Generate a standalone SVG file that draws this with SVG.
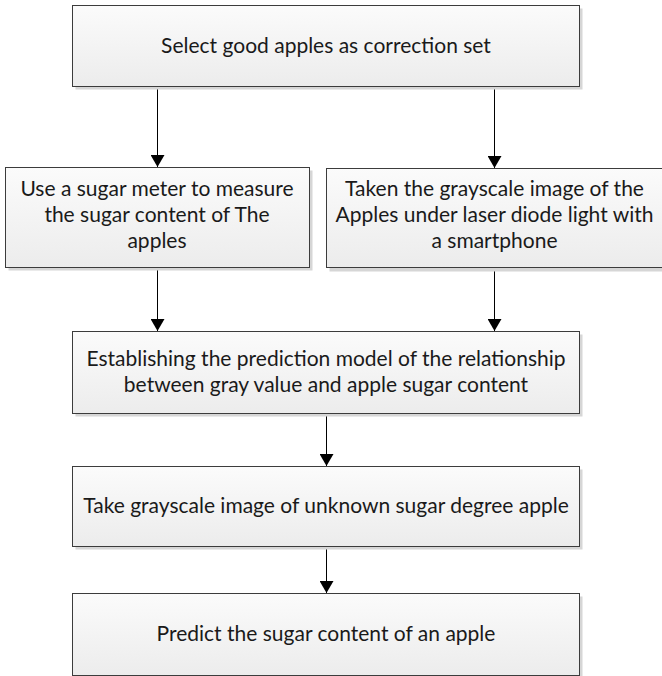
<svg xmlns="http://www.w3.org/2000/svg" width="662" height="676" viewBox="0 0 662 676">
  <defs>
    <linearGradient id="boxFill" x1="0" y1="0" x2="0" y2="1">
      <stop offset="0" stop-color="#fbfbfb"/>
      <stop offset="1" stop-color="#ececec"/>
    </linearGradient>
    <marker id="arrow" viewBox="0 0 12 14" refX="12" refY="7" markerWidth="12" markerHeight="14" markerUnits="userSpaceOnUse" orient="auto">
      <path d="M0,0 L12,7 L0,14 Z" fill="#000"/>
    </marker>
  </defs>
  <style>
    .shadow { fill: #d6d6d6; }
    .box { fill: url(#boxFill); stroke: #3c3c3c; stroke-width: 1; }
    .label { font-family: Lato, "Open Sans", sans-serif; font-size: 21px; fill: #1a1a1a; text-anchor: middle; }
    .link { stroke: #000; stroke-width: 1; fill: none; marker-end: url(#arrow); }
  </style>
  <rect width="662" height="676" fill="#fff"/>

  <g id="connectors">
    <line class="link" x1="157.5" y1="86.5" x2="157.5" y2="167"/>
    <line class="link" x1="494.5" y1="86.5" x2="494.5" y2="168"/>
    <line class="link" x1="157.5" y1="267.5" x2="157.5" y2="331"/>
    <line class="link" x1="494.5" y1="267.5" x2="494.5" y2="331"/>
    <line class="link" x1="326.5" y1="413.5" x2="326.5" y2="466"/>
    <line class="link" x1="326.5" y1="546.5" x2="326.5" y2="593"/>
  </g>

  <g id="select">
    <rect class="shadow" x="75.5" y="8.5" width="507" height="81"/>
    <rect class="box" x="72.5" y="5.5" width="507" height="81"/>
    <text class="label" x="326" y="53">Select good apples as correction set</text>
  </g>

  <g id="measure">
    <rect class="shadow" x="8.5" y="170.5" width="304" height="100"/>
    <rect class="box" x="5.5" y="167.5" width="304" height="100"/>
    <text class="label" x="157" y="196">Use a sugar meter to measure</text>
    <text class="label" x="157" y="222">the sugar content of The</text>
    <text class="label" x="157" y="248">apples</text>
  </g>

  <g id="capture">
    <rect class="shadow" x="329.5" y="171.5" width="340" height="100"/>
    <rect class="box" x="326.5" y="168.5" width="340" height="99"/>
    <text class="label" x="494.5" y="196">Taken the grayscale image of the</text>
    <text class="label" x="494.5" y="222">Apples under laser diode light with</text>
    <text class="label" x="494.5" y="248">a smartphone</text>
  </g>

  <g id="model">
    <rect class="shadow" x="75.5" y="334.5" width="507" height="82"/>
    <rect class="box" x="72.5" y="331.5" width="507" height="82"/>
    <text class="label" x="326" y="366">Establishing the prediction model of the relationship</text>
    <text class="label" x="326" y="392">between gray value and apple sugar content</text>
  </g>

  <g id="unknown">
    <rect class="shadow" x="75.5" y="469.5" width="507" height="80"/>
    <rect class="box" x="72.5" y="466.5" width="507" height="80"/>
    <text class="label" x="326" y="513">Take grayscale image of unknown sugar degree apple</text>
  </g>

  <g id="predict">
    <rect class="shadow" x="75.5" y="596.5" width="507" height="82"/>
    <rect class="box" x="72.5" y="593.5" width="507" height="82"/>
    <text class="label" x="326" y="641">Predict the sugar content of an apple</text>
  </g>
</svg>
